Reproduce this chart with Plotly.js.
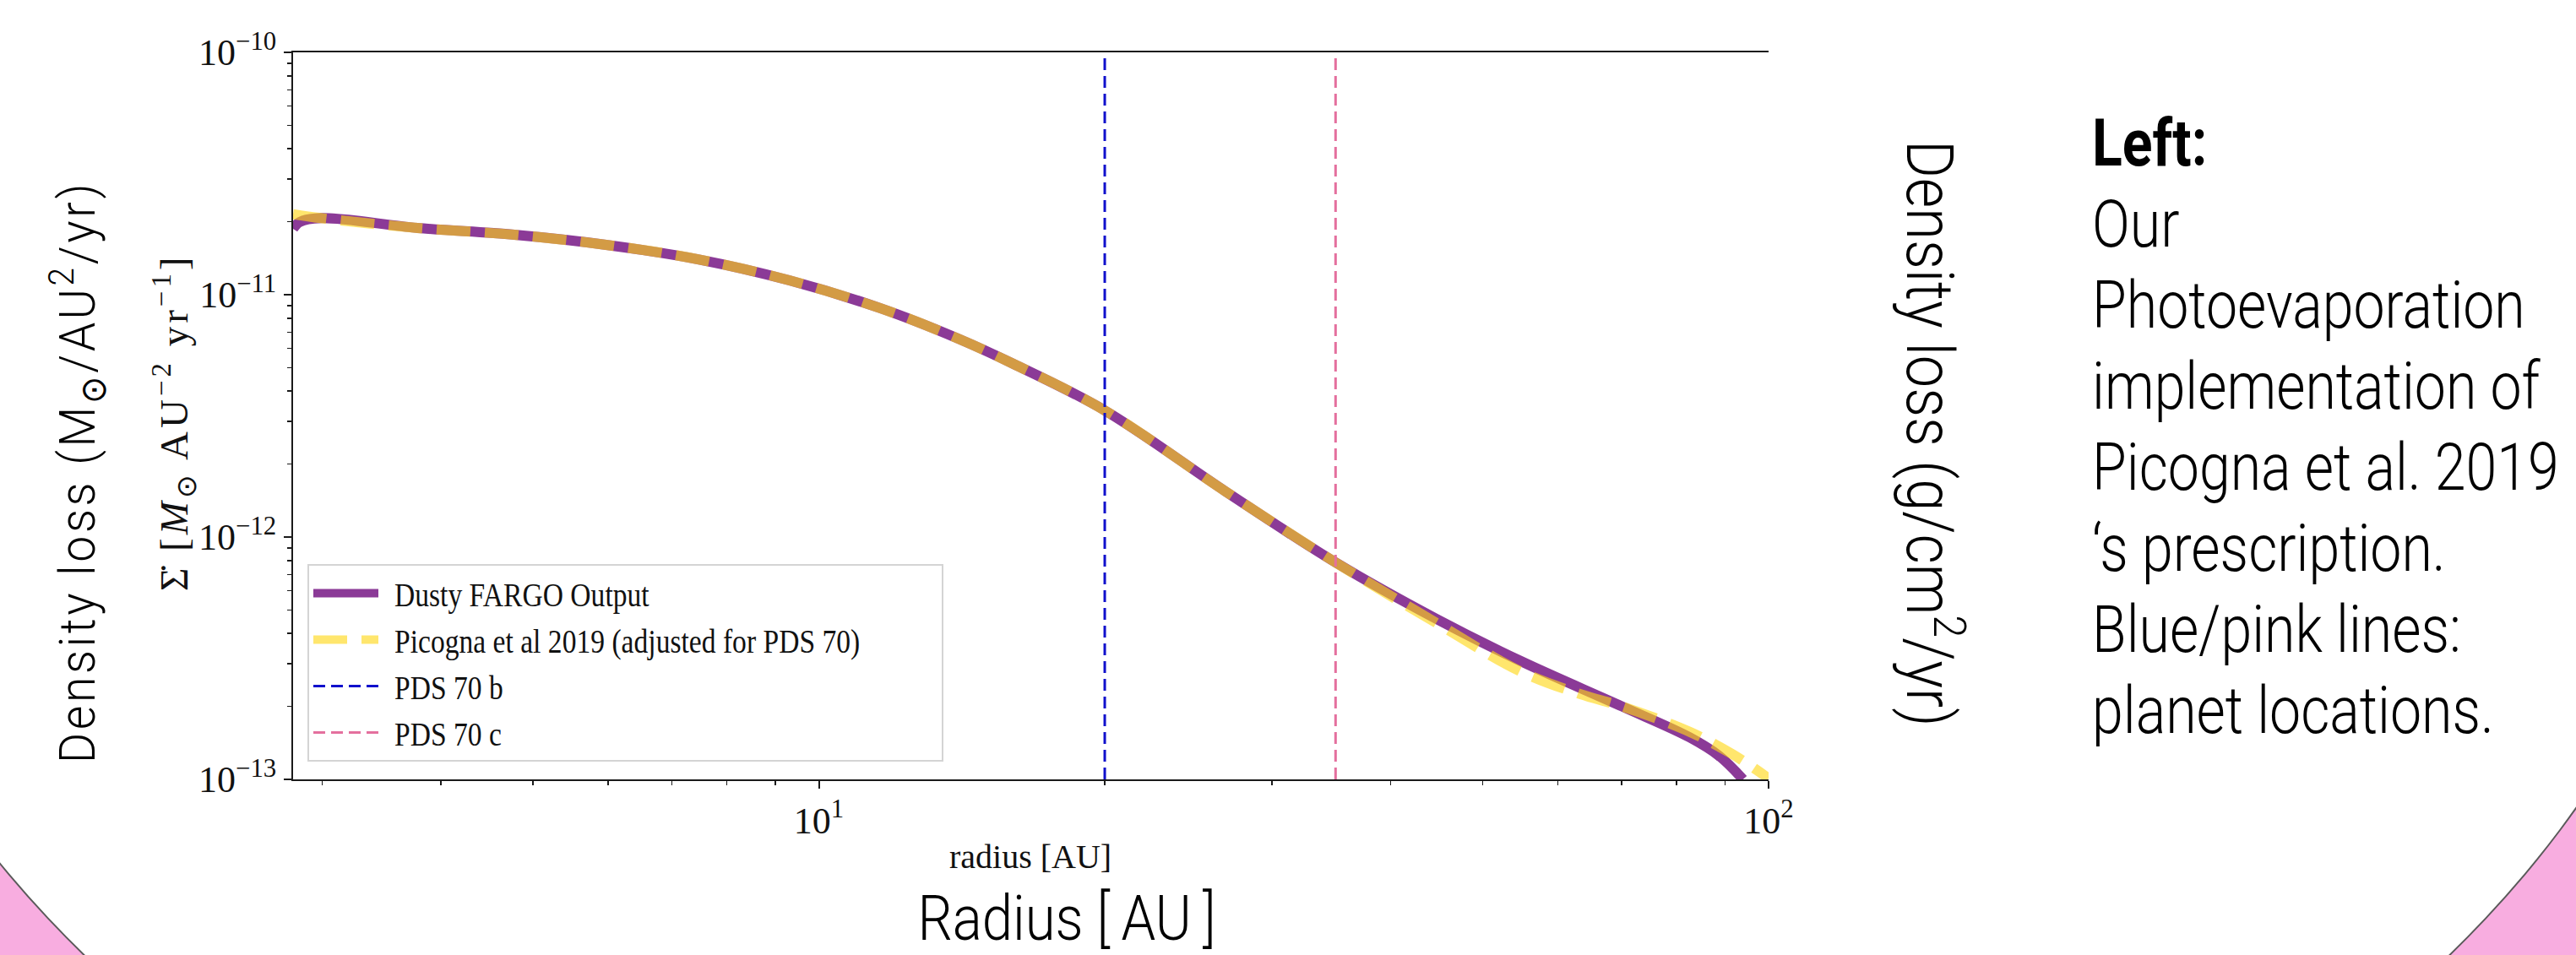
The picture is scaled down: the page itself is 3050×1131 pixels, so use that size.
<!DOCTYPE html>
<html>
<head>
<meta charset="utf-8">
<script src="https://cdn.plot.ly/plotly-3.0.1.min.js"></script>
<style>
  html, body { margin: 0; padding: 0; background: #ffffff; }
  #wrap { position: relative; width: 3050px; height: 1131px; overflow: hidden; background: #f8ade0; }
  #oval { position: absolute; left: -237px; top: -838px; width: 3474px; height: 2476px; border-radius: 50%;
          background: #ffffff; box-sizing: border-box; border: 2px solid #5a5a5a; }
  #chart { position: absolute; left: 0; top: 0; width: 3050px; height: 1131px; }
</style>
</head>
<body>
<div id="wrap">
  <div id="oval"></div>
  <div id="chart"></div>
</div>
<script>
// ---------------- data ----------------
const radiusFargo = [2.795, 2.84, 2.99, 3.78, 4.78, 5.97, 7.46, 9.31, 11.6, 14.0, 16.03, 20.0, 26.8, 35.1, 44.7, 54.8, 70.1, 82.6, 88.7, 94.0];
const sigmaDotFargo = [1.87e-11, 1.995e-11, 2.07e-11, 1.885e-11, 1.767e-11, 1.606e-11, 1.40e-11, 1.146e-11, 8.8e-12, 6.6e-12, 5.18e-12, 3.33e-12, 1.543e-12, 7.80e-13, 4.59e-13, 3.08e-13, 2.00e-13, 1.49e-13, 1.25e-13, 1.0e-13];

const radiusPicogna = [2.795, 2.99, 3.78, 4.78, 5.97, 7.46, 9.31, 11.6, 14.0, 16.03, 20.0, 26.8, 35.1, 44.7, 54.8, 63.3, 70.1, 82.6, 91.6, 100.0];
const sigmaDotPicogna = [2.15e-11, 2.07e-11, 1.885e-11, 1.767e-11, 1.606e-11, 1.40e-11, 1.146e-11, 8.8e-12, 6.6e-12, 5.18e-12, 3.33e-12, 1.543e-12, 7.80e-13, 4.42e-13, 2.79e-13, 2.25e-13, 2.00e-13, 1.57e-13, 1.27e-13, 1.01e-13];

const planetB = 20.0;   // PDS 70 b location [AU]
const planetC = 35.0;   // PDS 70 c location [AU]

const xRange = [2.795, 100];
const yRangeLeft = [1e-13, 1e-10];
const yRangeRight = [1e-6, 1e-3];

const xTickVals = [10, 100];
const xTickText = ['10<sup>1</sup>', '10<sup>2</sup>'];
const xMinorVals = [3, 4, 5, 6, 7, 8, 9, 20, 30, 40, 50, 60, 70, 80, 90];
const yTickVals = [1e-13, 1e-12, 1e-11, 1e-10];
const yTickText = ['10<sup>\u221213</sup>', '10<sup>\u221212</sup>', '10<sup>\u221211</sup>', '10<sup>\u221210</sup>'];
const y2TickVals = [1e-6, 1e-5, 1e-4, 1e-3];
const y2TickText = ['10<sup>\u22126</sup>', '10<sup>\u22125</sup>', '10<sup>\u22124</sup>', '10<sup>\u22123</sup>'];

const legendNames = ['Dusty FARGO Output', 'Picogna et al 2019 (adjusted for PDS 70)', 'PDS 70 b', 'PDS 70 c'];
const leftBigLabel = 'Density loss (M<sub>\u2299</sub>/AU<sup>2</sup>/yr)';
const rightBigLabel = 'Density loss (g/cm<sup>2</sup>/yr)';
const plotYLabel = '\u03A3\u0307 [<i>M</i><sub>\u2299</sub> AU<sup>\u22122</sup> yr<sup>\u22121</sup>]';
const plotXLabel = 'radius [AU]';
const bigXLabel = 'Radius [\u2009AU\u2009]';
const textLines = ['<b>Left:</b>', 'Our', 'Photoevaporation', 'implementation of', 'Picogna et al. 2019', '\u2018s prescription.', 'Blue/pink lines:', 'planet locations.'];

// ---------------- helpers (layout geometry) ----------------
const W = 3050, H = 1131;
const L = 347, R = 2094, T = 62, B = 923;
const px = v => (v - L) / (R - L);
const py = v => (B - v) / (B - T);
function minorDecades(lo, hi) {
  const out = [];
  for (let e = lo; e < hi; e++) for (let k = 2; k <= 9; k++) out.push(k * Math.pow(10, e));
  return out;
}
const SERIF = 'Liberation Serif, Times New Roman, serif';
const SANS = 'Roboto, Liberation Sans, sans-serif';

const traces = [
  { x: radiusFargo, y: sigmaDotFargo, name: legendNames[0], type: 'scatter', mode: 'lines',
    line: { color: '#8b3a97', width: 12, shape: 'spline', smoothing: 1 } },
  { x: radiusPicogna, y: sigmaDotPicogna, name: legendNames[1], type: 'scatter', mode: 'lines',
    line: { color: 'rgba(255,214,20,0.62)', width: 12, dash: '40px,17px', shape: 'spline', smoothing: 1 } },
  { x: [planetB, planetB], y: yRangeLeft, name: legendNames[2], type: 'scatter', mode: 'lines',
    line: { color: '#1010cc', width: 3, dash: '14px,7px' } },
  { x: [planetC, planetC], y: yRangeLeft, name: legendNames[3], type: 'scatter', mode: 'lines',
    line: { color: '#e4709e', width: 3, dash: '14px,7px' } }
];

const axisCommon = {
  showline: true, linecolor: '#1a1a1a', linewidth: 2,
  ticks: 'outside', ticklen: 9, tickwidth: 2, tickcolor: '#1a1a1a',
  showgrid: false, zeroline: false,
  tickfont: { family: SERIF, size: 44, color: '#111' }
};

// extra per-annotation styling: [scaleX, transform origin, letter spacing]
const annStyle = [];
const annotations = [];
function addAnn(a, scale, origin, spacing) {
  annotations.push(Object.assign({ xref: 'paper', yref: 'paper', showarrow: false, xanchor: 'center', yanchor: 'middle' }, a));
  annStyle.push([scale || 1, origin || 'center', spacing || '0px']);
}
addAnn({ text: leftBigLabel, x: px(91), y: py(559), textangle: -90, font: { family: SANS, size: 60, weight: 300, color: '#000' } }, 0.92, 'center', '4px');
addAnn({ text: rightBigLabel, x: px(2290), y: py(513), textangle: 90, font: { family: SANS, size: 77, weight: 300, color: '#000' } }, 0.89, 'center', '0px');
addAnn({ text: plotYLabel, x: px(206), y: py(500), textangle: -90, font: { family: SERIF, size: 47, color: '#111' } }, 1, 'center', '4px');
addAnn({ text: plotXLabel, x: px(1220), y: py(1014), font: { family: SERIF, size: 40, color: '#111' } }, 1, 'center', '0px');
addAnn({ text: bigXLabel, x: px(1263), y: py(1087), font: { family: SANS, size: 75, weight: 300, color: '#000' } }, 0.87, 'center', '0px');
textLines.forEach((t, i) => {
  addAnn({ text: t, x: px(2475), y: py(197 + 96 * i - 27), xanchor: 'left', font: { family: SANS, size: 77, weight: i === 0 ? 400 : 300, color: '#000' } }, 0.86, 'left center', '0px');
});

const layout = {
  width: W, height: H,
  margin: { l: L, r: W - R, t: T, b: H - B, pad: 0 },
  paper_bgcolor: 'rgba(0,0,0,0)', plot_bgcolor: '#ffffff',
  showlegend: true,
  legend: {
    x: px(364), y: py(668), xanchor: 'left', yanchor: 'top',
    bgcolor: 'rgba(255,255,255,0.9)', bordercolor: '#d4d4d4', borderwidth: 2,
    font: { family: SERIF, size: 40, color: '#111' }, itemwidth: 77
  },
  xaxis: Object.assign({}, axisCommon, {
    type: 'log', range: xRange.map(Math.log10), mirror: true,
    tickmode: 'array', tickvals: xTickVals, ticktext: xTickText,
    minor: { tickmode: 'array', tickvals: xMinorVals, ticks: 'outside', ticklen: 5, tickwidth: 1.5, tickcolor: '#1a1a1a', showgrid: false }
  }),
  yaxis: Object.assign({}, axisCommon, {
    type: 'log', range: yRangeLeft.map(Math.log10),
    tickmode: 'array', tickvals: yTickVals, ticktext: yTickText,
    minor: { tickmode: 'array', tickvals: minorDecades(-13, -10), ticks: 'outside', ticklen: 5, tickwidth: 1.5, tickcolor: '#1a1a1a', showgrid: false }
  }),
  yaxis2: Object.assign({}, axisCommon, {
    type: 'log', range: yRangeRight.map(Math.log10), overlaying: 'y', side: 'right', anchor: 'x',
    tickmode: 'array', tickvals: y2TickVals, ticktext: y2TickText,
    minor: { tickmode: 'array', tickvals: minorDecades(-6, -3), ticks: 'outside', ticklen: 5, tickwidth: 1.5, tickcolor: '#1a1a1a', showgrid: false }
  }),
  annotations: annotations
};

Plotly.newPlot('chart', traces, layout, { staticPlot: true }).then(() => {
  document.querySelectorAll('#chart .annotation').forEach(g => {
    const i = +g.getAttribute('data-index');
    const st = annStyle[i];
    const t = g.querySelector('.annotation-text');
    if (!st || !t) return;
    t.style.letterSpacing = st[2];
    if (st[0] !== 1) {
      t.style.transformBox = 'fill-box';
      t.style.transformOrigin = st[1];
      t.style.transform = 'scaleX(' + st[0] + ')';
    }
  });
  // matplotlib legend text is horizontally compressed in the reference image
  document.querySelectorAll('#chart .legendtext').forEach(t => {
    t.style.transformBox = 'fill-box';
    t.style.transformOrigin = 'left center';
    t.style.transform = 'translateX(14px) scaleX(0.84)';
  });
});
</script>
</body>
</html>
